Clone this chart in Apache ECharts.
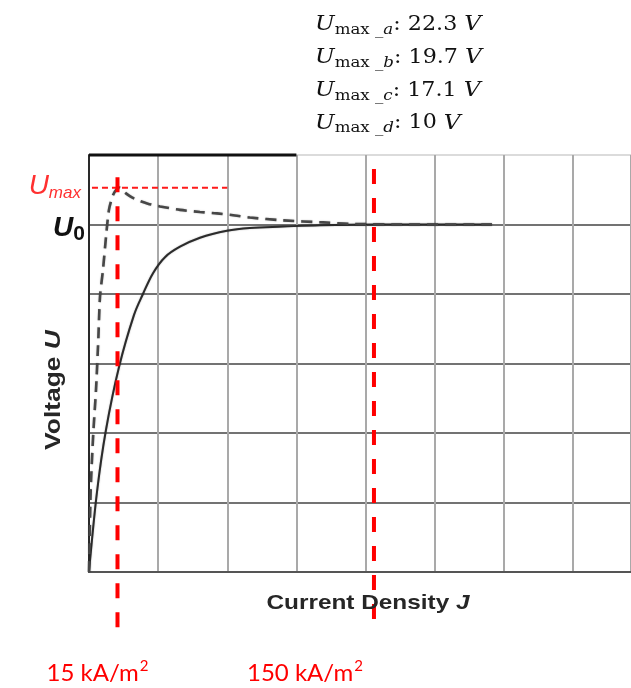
<!DOCTYPE html>
<html>
<head>
<meta charset="utf-8">
<script src="https://cdn.jsdelivr.net/npm/echarts@6/dist/echarts.min.js"></script>
<style>
  html, body { margin: 0; padding: 0; background: #ffffff; }
  #chart { width: 631px; height: 688px; }
</style>
</head>
<body>
<div id="chart"></div>
<script>
// Steady characteristic: current density J (kA/m²) and voltage (grid units, U0 = 5)
const steadyJ = [0, 4.2, 8.9, 15.8, 23.7, 28.4, 33.7, 40.0, 47.9, 58.4, 72.6, 84.7, 102.1, 121.6, 153.2, 212.1];
const steadyU = [0, 1.15, 2.04, 2.95, 3.70, 4.00, 4.30, 4.53, 4.68, 4.81, 4.91, 4.95, 4.97, 4.99, 5.00, 5.00];

// Overshooting characteristic (dashed), peaking at Umax
const peakJ = [0, 0.9, 2.26, 3.68, 4.89, 5.79, 7.37, 8.95, 10.5, 12.6, 14.6, 16.1, 17.6, 19.8, 22.6, 26.5, 31.0, 37.4, 47.9, 58.4, 67.4, 76.8, 84.7, 102.1, 123.2, 137.4, 163.7, 212.1];
const peakU = [0, 1.18, 2.00, 2.62, 3.34, 3.96, 4.35, 4.82, 5.21, 5.42, 5.51, 5.53, 5.49, 5.44, 5.39, 5.34, 5.30, 5.26, 5.21, 5.18, 5.16, 5.13, 5.10, 5.06, 5.03, 5.01, 5.00, 5.00];

// Marked current densities (kA/m²)
const markedJ = [15, 150];

// Peak voltage of each case
const caseNames = ['a', 'b', 'c', 'd'];
const caseUmax = [22.3, 19.7, 17.1, 10];

// Axis layout
const u0Level = 5;
const jStep = 36.39;      // one grid cell along J
const jMax = 285.3;
const uMaxAxis = 6;

const zip = (xs, ys) => xs.map((x, i) => [x, ys[i]]);
const uMax = Math.max(...peakU);

const chart = echarts.init(document.getElementById('chart'), null, { renderer: 'canvas' });

const series = [
  {
    name: 'steady',
    type: 'line',
    data: zip(steadyJ, steadyU),
    showSymbol: false,
    symbol: 'none',
    smooth: 0.35,
    lineStyle: { color: '#2b2b2b', width: 2, shadowColor: 'rgba(0,0,0,0.35)', shadowBlur: 1.5 },
    z: 3
  },
  {
    name: 'overshoot',
    type: 'line',
    data: zip(peakJ, peakU),
    showSymbol: false,
    symbol: 'none',
    smooth: 0.25,
    lineStyle: { color: '#474747', width: 2.6, type: [11, 7], shadowColor: 'rgba(0,0,0,0.3)', shadowBlur: 1.5 },
    z: 3
  },
  {
    name: 'umax-level',
    type: 'line',
    data: [[-3.7, uMax], [2 * jStep, uMax]],
    symbol: 'none',
    clip: false,
    lineStyle: { color: '#ff1a1a', width: 2, type: [6, 4] },
    z: 4
  },
  {
    name: 'frame-top',
    type: 'line',
    data: [[0, uMaxAxis], [3 * jStep, uMaxAxis]],
    symbol: 'none',
    clip: false,
    lineStyle: { color: '#111111', width: 3 },
    z: 2
  }
];

const markTop = [5.68, 5.8];
const markBottom = [-0.83, -0.72];
markedJ.forEach((j, i) => {
  series.push({
    name: 'mark-' + j,
    type: 'line',
    data: [[j, markTop[i]], [j, markBottom[i]]],
    symbol: 'none',
    clip: false,
    lineStyle: { color: '#ff0000', width: 4, type: [15, 14] },
    z: 5
  });
});

chart.setOption({
  animation: false,
  backgroundColor: '#ffffff',
  grid: { left: 89, right: 0, top: 155, bottom: 116, containLabel: false, outerBoundsMode: 'none' },
  xAxis: {
    type: 'value',
    min: 0,
    max: jMax,
    interval: jStep,
    axisLabel: { show: false },
    axisTick: { show: false },
    axisLine: { show: true, onZero: true, lineStyle: { color: '#555555', width: 2 } },
    splitLine: { show: true, lineStyle: { color: '#a9a9a9', width: 2 } }
  },
  yAxis: {
    type: 'value',
    min: 0,
    max: uMaxAxis,
    interval: 1,
    axisLabel: { show: false },
    axisTick: { show: false },
    axisLine: { show: true, lineStyle: { color: '#2a2a2a', width: 2 } },
    splitLine: {
      show: true,
      lineStyle: {
        color: ['#444444', '#444444', '#444444', '#444444', '#444444', '#444444', '#cfcfcf'],
        width: 1.6
      }
    }
  },
  series: series
});

// Text placed next to the data it describes
const px = (x, y) => chart.convertToPixel({ gridIndex: 0 }, [x, y]);
const graphics = [];

// Case table at the top
const serif = 'DejaVu Serif';
caseNames.forEach((name, i) => {
  graphics.push({
    type: 'text',
    x: 315,
    y: 12 + i * 32.7,
    scaleX: 1.11,
    z: 10,
    style: {
      text: '{U|U}{m|max}{s| _' + name + '}{n|: ' + caseUmax[i] + ' }{U|V}',
      align: 'left',
      verticalAlign: 'top',
      rich: {
        U: { fontFamily: serif, fontStyle: 'italic', fontSize: 21, lineHeight: 26, fill: '#111' },
        n: { fontFamily: serif, fontSize: 20, lineHeight: 26, fill: '#111' },
        m: { fontFamily: serif, fontSize: 15, lineHeight: 17, verticalAlign: 'bottom', fill: '#111' },
        s: { fontFamily: serif, fontStyle: 'italic', fontSize: 15, lineHeight: 17, verticalAlign: 'bottom', fill: '#111' }
      }
    }
  });
});

// Axis titles
graphics.push({
  type: 'text',
  x: 54,
  y: 390,
  rotation: Math.PI / 2,
  scaleX: 1.2,
  z: 10,
  style: {
    text: '{a|Voltage }{b|U}',
    align: 'center',
    verticalAlign: 'middle',
    rich: {
      a: { fontFamily: 'Liberation Sans', fontWeight: 'bold', fontSize: 22, fill: '#262626' },
      b: { fontFamily: 'Liberation Sans', fontWeight: 'bold', fontStyle: 'italic', fontSize: 22, fill: '#262626' }
    }
  }
});
graphics.push({
  type: 'text',
  x: 368,
  y: 603,
  scaleX: 1.16,
  z: 10,
  style: {
    text: '{a|Current Density }{b|J}',
    align: 'center',
    verticalAlign: 'middle',
    rich: {
      a: { fontFamily: 'Liberation Sans', fontWeight: 'bold', fontSize: 21, fill: '#262626' },
      b: { fontFamily: 'Liberation Sans', fontWeight: 'bold', fontStyle: 'italic', fontSize: 21, fill: '#262626' }
    }
  }
});

// U0 next to the steady level
const pU0 = px(0, u0Level);
graphics.push({
  type: 'text',
  x: pU0[0] - 4,
  y: pU0[1] + 4,
  z: 10,
  style: {
    text: '{u|U}{s|0}',
    align: 'right',
    verticalAlign: 'middle',
    rich: {
      u: { fontFamily: 'Liberation Sans', fontWeight: 'bold', fontStyle: 'italic', fontSize: 28, lineHeight: 32, fill: '#111' },
      s: { fontFamily: 'Liberation Sans', fontWeight: 'bold', fontSize: 21, lineHeight: 16, verticalAlign: 'bottom', fill: '#111' }
    }
  }
});

// Umax next to the dashed red level
const pUm = px(-3.7, uMax);
graphics.push({
  type: 'text',
  x: pUm[0] - 1,
  y: pUm[1] - 1,
  z: 10,
  style: {
    text: '{u|U}{s|max}',
    align: 'right',
    verticalAlign: 'middle',
    rich: {
      u: { fontFamily: 'Liberation Sans', fontStyle: 'italic', fontSize: 28, lineHeight: 30, fill: '#ff3030' },
      s: { fontFamily: 'Liberation Sans', fontStyle: 'italic', fontSize: 17, lineHeight: 12, verticalAlign: 'bottom', fill: '#ff3030' }
    }
  }
});

// Current density values under the red markers
const labelShift = [-20, -69];
markedJ.forEach((j, i) => {
  const p = px(j, 0);
  graphics.push({
    type: 'text',
    x: p[0] + labelShift[i],
    y: p[1] + 101,
    z: 10,
    style: {
      text: '{a|' + j + ' kA/m}{b|2}',
      align: 'center',
      verticalAlign: 'middle',
      rich: {
        a: { fontFamily: 'Lato', fontSize: 24, lineHeight: 28, fill: '#ff0000' },
        b: { fontFamily: 'Lato', fontSize: 15, lineHeight: 28, verticalAlign: 'top', padding: [0, 0, 0, 1], fill: '#ff0000' }
      }
    }
  });
});

chart.setOption({ graphic: graphics });
</script>
</body>
</html>
